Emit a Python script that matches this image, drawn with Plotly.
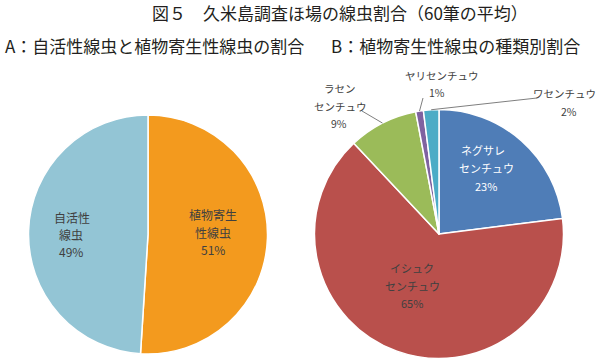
import math
import plotly.graph_objects as go

W, H = 600, 361

# Data
a_labels = ["植物寄生性線虫", "自活性線虫"]
a_values = [51, 49]
a_colors = ["#F39A1E", "#93C5D5"]

b_labels = ["ネグサレセンチュウ", "イシュクセンチュウ", "ラセンセンチュウ", "ヤリセンチュウ", "ワセンチュウ"]
b_values = [23, 65, 9, 1, 2]
b_colors = ["#4F7DB7", "#B9504C", "#9BBB59", "#7F62A0", "#4BACC6"]

title = "図５　久米島調査ほ場の線虫割合（60筆の平均）"
sub_a = "A：自活性線虫と植物寄生性線虫の割合"
sub_b = "B：植物寄生性線虫の種類別割合"

FONT = "Noto Sans CJK JP"
LBL = "#404040"
DARK = "#231F20"


def px(x, y):
    return x / W, 1 - y / H


def domain(cx, cy, r):
    return dict(x=[(cx - r) / W, (cx + r) / W], y=[1 - (cy + r) / H, 1 - (cy - r) / H])


A_C = (148, 234.5, 119.5)
B_C = (439, 234, 124.5)

fig = go.Figure()
fig.add_trace(go.Pie(labels=a_labels, values=a_values, sort=False, direction="clockwise",
                     rotation=0, marker=dict(colors=a_colors, line=dict(color="white", width=1.5)),
                     textinfo="none", hoverinfo="label+percent", domain=domain(*A_C),
                     showlegend=False))
fig.add_trace(go.Pie(labels=b_labels, values=b_values, sort=False, direction="clockwise",
                     rotation=0, marker=dict(colors=b_colors, line=dict(color="white", width=1.5)),
                     textinfo="none", hoverinfo="label+percent", domain=domain(*B_C),
                     showlegend=False))

ann = []


def text(x, y, s, size, color=DARK, xanchor="center"):
    xx, yy = px(x, y)
    ann.append(dict(x=xx, y=yy, xref="paper", yref="paper", text=s, showarrow=False,
                    xanchor=xanchor, yanchor="middle", font=dict(family=FONT, size=size, color=color)))


def block(lines, xs, ys, size, color=LBL, xanchor="center"):
    for s, x, y in zip(lines, xs, ys):
        text(x, y, s, size, color, xanchor)


text(340, 13, title, 17)
text(3, 45, sub_a, 17, xanchor="left")
text(329, 45, sub_b, 17, xanchor="left")

# inside labels
block(["自活性", "線虫", f"{a_values[1]}%"], [72, 71, 71], [217, 234, 251], 12)
block(["植物寄生", "性線虫", f"{a_values[0]}%"], [213, 213, 213], [214, 232, 249], 12)
block(["ネグサレ", "センチュウ", f"{b_values[0]}%"], [483, 486, 486], [150, 168, 186], 11, "white")
block(["イシュク", "センチュウ", f"{b_values[1]}%"], [412, 412, 412], [268, 286, 303], 11)
# outside labels
block(["ラセン", "センチュウ", f"{b_values[2]}%"], [340, 340, 339], [89, 106, 123], 10.5)
block(["ヤリセンチュウ", f"{b_values[3]}%"], [442, 437], [75, 92], 10.5)
text(598, 94, "ワセンチュウ", 10.5, LBL, xanchor="right")
text(569, 112, f"{b_values[4]}%", 10.5, LBL)


def edge_point(values, idx, cx, cy, r):
    tot = sum(values)
    cum = sum(values[:idx]) + values[idx] / 2
    th = 2 * math.pi * cum / tot
    return cx + r * math.sin(th), cy - r * math.cos(th)


shapes = []
leader_from = {2: (362, 111), 3: (423, 98), 4: (537, 98)}
for idx, (lx, ly) in leader_from.items():
    ex, ey = edge_point(b_values, idx, *B_C)
    x0, y0 = px(lx, ly)
    x1, y1 = px(ex, ey)
    shapes.append(dict(type="line", xref="paper", yref="paper", x0=x0, y0=y0, x1=x1, y1=y1,
                       line=dict(color="#7F7F7F", width=1)))

fig.update_layout(width=W, height=H, margin=dict(l=0, r=0, t=0, b=0),
                  paper_bgcolor="white", plot_bgcolor="white",
                  annotations=ann, shapes=shapes, font=dict(family=FONT))
fig.write_html("out.html", config={"displayModeBar": False},
               post_script="document.body.style.margin='0';document.body.style.overflow='hidden';")
